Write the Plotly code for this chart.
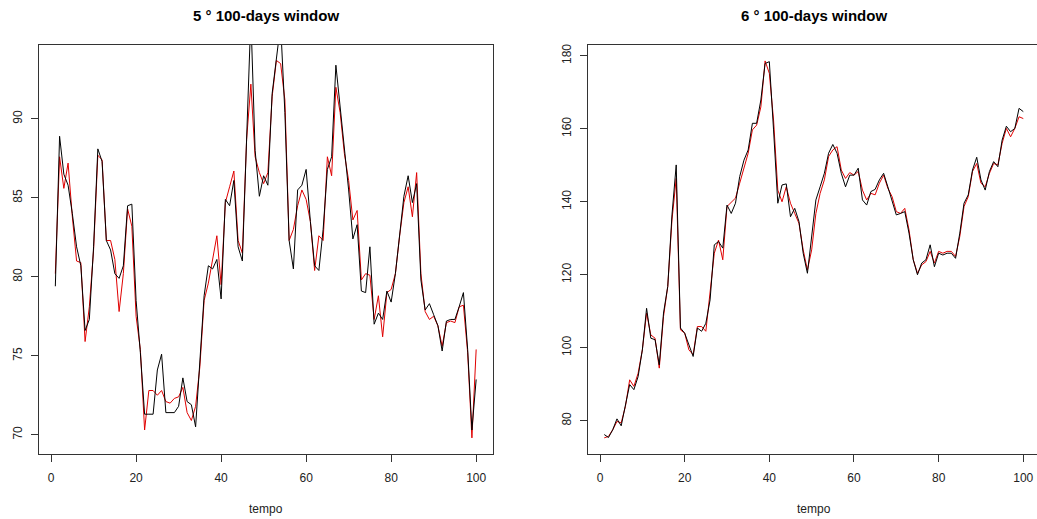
import plotly.graph_objects as go

tempo = list(range(1, 101))

# Panel 1: "5 ° 100-days window"
w5_black = [79.4, 88.9, 86.5, 85.8, 84.0, 81.9, 80.7, 76.6, 77.3, 81.9,
            88.1, 87.3, 82.3, 81.7, 80.2, 79.9, 80.7, 84.5, 84.6, 78.5,
            75.2, 71.3, 71.3, 71.3, 74.1, 75.1, 71.4, 71.4, 71.4, 71.8,
            73.6, 72.1, 71.9, 70.5, 74.6, 78.8, 80.7, 80.5, 81.1, 78.6,
            84.9, 84.5, 86.1, 81.9, 81.0, 89.1, 96.5, 88.0, 85.1, 86.4,
            85.8, 91.6, 93.8, 96.0, 90.4, 82.3, 80.5, 85.5, 85.8, 86.8,
            83.5, 80.7, 80.4, 83.0, 86.8, 87.6, 93.4, 90.8, 88.0, 85.5,
            82.4, 83.3, 79.1, 79.0, 81.9, 77.0, 77.7, 77.3, 79.1, 78.4,
            80.2, 82.8, 85.1, 86.4, 84.7, 85.9, 79.8, 77.9, 78.3, 77.6,
            76.9, 75.3, 77.2, 77.3, 77.3, 78.1, 79.0, 75.4, 70.3, 73.5]
w5_red = [80.2, 87.6, 85.6, 87.2, 83.8, 81.0, 80.9, 75.9, 78.1, 81.7,
          87.7, 87.4, 82.3, 82.3, 81.1, 77.8, 80.2, 84.3, 83.2, 77.5,
          75.4, 70.3, 72.8, 72.8, 72.5, 72.8, 72.1, 72.0, 72.3, 72.4,
          73.0, 71.4, 70.9, 71.8, 74.3, 78.5, 79.6, 81.1, 82.6, 79.5,
          84.7, 85.7, 86.7, 82.3, 81.5, 88.7, 92.2, 87.6, 86.6, 85.9,
          86.6, 91.4, 93.7, 93.5, 91.2, 82.3, 83.0, 84.5, 85.5, 84.9,
          83.5, 80.4, 82.6, 82.3, 87.6, 86.4, 92.0, 90.4, 87.8, 86.1,
          83.6, 84.2, 79.8, 80.2, 80.1, 77.3, 78.8, 76.2, 79.0, 79.2,
          80.2, 82.6, 84.7, 85.7, 83.8, 86.6, 80.2, 77.8, 77.3, 77.5,
          76.9, 75.6, 77.1, 77.2, 77.1, 78.1, 78.2, 75.2, 69.8, 75.4]

# Panel 2: "6 ° 100-days window"
w6_black = [76.2, 75.4, 77.5, 80.5, 78.6, 83.9, 89.9, 88.5, 92.1, 99.4,
            110.8, 102.6, 102.2, 95.3, 109.5, 116.8, 136.4, 150.1, 105.4, 104.0,
            100.8, 97.6, 105.4, 104.5, 106.7, 113.1, 128.2, 129.1, 127.3, 139.1,
            136.8, 139.6, 146.9, 151.4, 154.2, 161.5, 161.5, 167.9, 177.9, 178.4,
            159.7, 139.6, 144.6, 144.9, 135.9, 138.2, 134.6, 125.9, 120.4, 130.5,
            140.5, 144.1, 147.8, 153.3, 155.7, 153.3, 147.8, 144.1, 147.3, 147.3,
            149.2, 140.5, 139.1, 142.8, 143.4, 146.0, 147.8, 144.1, 140.5, 136.4,
            136.8, 137.3, 131.4, 124.1, 120.0, 123.2, 124.1, 128.2, 122.2, 125.9,
            125.4, 125.9, 125.9, 124.5, 131.4, 139.6, 141.9, 148.7, 152.2, 146.0,
            143.2, 148.3, 151.0, 149.6, 156.9, 160.7, 159.2, 160.1, 165.6, 164.7]
w6_red = [75.3, 75.7, 77.5, 79.8, 79.4, 83.9, 91.2, 89.4, 93.0, 99.4,
          109.5, 103.5, 102.6, 94.4, 108.6, 116.8, 135.0, 146.4, 104.9, 104.0,
          99.4, 98.1, 105.8, 105.8, 104.5, 114.9, 125.9, 129.5, 124.1, 138.7,
          140.0, 141.0, 145.1, 149.6, 153.3, 159.7, 161.0, 166.0, 178.6, 175.2,
          162.4, 143.2, 140.0, 144.1, 139.6, 136.8, 134.1, 126.8, 121.3, 126.8,
          136.8, 142.3, 146.0, 152.4, 154.2, 155.1, 148.7, 146.4, 148.0, 147.3,
          148.3, 143.2, 140.5, 142.3, 141.9, 145.1, 147.3, 143.7, 141.4, 137.3,
          136.8, 138.2, 132.3, 124.1, 120.4, 122.7, 123.6, 126.4, 123.2, 126.4,
          125.9, 126.4, 126.4, 125.0, 130.5, 138.7, 141.4, 148.3, 150.5, 145.1,
          144.1, 147.8, 150.5, 150.1, 156.0, 160.1, 157.8, 160.1, 163.3, 162.8]

titles = ["5 ° 100-days window", "6 ° 100-days window"]
xlabel = "tempo"
x_ticks = [0, 20, 40, 60, 80, 100]
y_ticks_5 = [70, 75, 80, 85, 90]
y_ticks_6 = [80, 100, 120, 140, 160, 180]

W, H = 1037, 519
FONT = "Liberation Sans, Arial, sans-serif"
TXT = "#222222"


def px_x(p):
    return p / W


def px_y(p):
    return 1 - p / H


fig = go.Figure()
for red, black, xa, ya in [(w5_red, w5_black, "x", "y"), (w6_red, w6_black, "x2", "y2")]:
    fig.add_trace(go.Scatter(x=tempo, y=red, mode="lines", xaxis=xa, yaxis=ya,
                             line=dict(color="#e00000", width=1), showlegend=False,
                             hoverinfo="skip"))
    fig.add_trace(go.Scatter(x=tempo, y=black, mode="lines", xaxis=xa, yaxis=ya,
                             line=dict(color="black", width=1), showlegend=False,
                             hoverinfo="skip"))

ydom = [px_y(454), px_y(44.5)]
common_ax = dict(showgrid=False, zeroline=False, showline=True, mirror=True,
                 linecolor="#333333", linewidth=1, ticks="outside", ticklen=7,
                 tickcolor="#333333", tickwidth=1,
                 tickfont=dict(family=FONT, size=12, color=TXT))

fig.update_layout(
    width=W, height=H,
    margin=dict(l=0, r=0, t=0, b=0),
    paper_bgcolor="white", plot_bgcolor="white",
    xaxis=dict(domain=[px_x(38.5), px_x(493)], range=[-2.96, 103.96],
               tickvals=x_ticks, anchor="y", ticklabelstandoff=6, **common_ax),
    yaxis=dict(domain=ydom, range=[68.78, 94.71], tickvals=y_ticks_5,
               tickangle=-90, anchor="x", ticklabelstandoff=4, **common_ax),
    xaxis2=dict(domain=[px_x(587.5), 1.0], range=[-2.96, 103.24],
                tickvals=x_ticks, anchor="y2", ticklabelstandoff=6, **common_ax),
    yaxis2=dict(domain=ydom, range=[70.87, 183.1], tickvals=y_ticks_6,
                tickangle=-90, anchor="x2", ticklabelstandoff=4, **common_ax),
)

centers = [px_x((38.5 + 493) / 2), px_x((587.5 + 1040) / 2)]
for cx, t in zip(centers, titles):
    fig.add_annotation(text="<b>" + t + "</b>", x=cx, y=px_y(15), xref="paper", yref="paper",
                       showarrow=False, xanchor="center", yanchor="middle",
                       font=dict(family=FONT, size=15, color="black"))
    fig.add_annotation(text=xlabel, x=cx, y=px_y(509), xref="paper", yref="paper",
                       showarrow=False, xanchor="center", yanchor="middle",
                       font=dict(family=FONT, size=12, color=TXT))

# remove the page's default body margin so the figure fills the window exactly
fig.write_html("out.html",
               config={"displayModeBar": False, "staticPlot": True},
               post_script="document.body.style.margin='0';document.body.style.overflow='hidden';")
